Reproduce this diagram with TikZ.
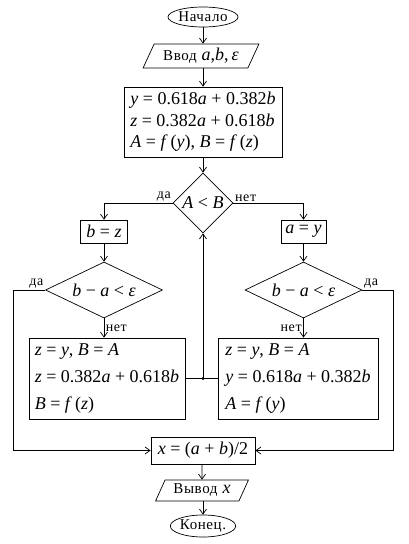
\documentclass[tikz,border=0pt]{standalone}
\usepackage{fontspec}
\setmainfont{Liberation Serif}
\newfontfamily\cyrfont[LetterSpace=4]{Liberation Serif}
\usetikzlibrary{arrows.meta,shapes.geometric}
\newcommand\vi[1]{\textit{#1}}
\newcommand\cyr{\cyrfont\fontsize{15}{17}\selectfont}
\newcommand\mth{\fontsize{18}{22}\selectfont}
\begin{document}
\begin{tikzpicture}[x=1pt,y=-1pt,
  every path/.style={line width=0.7pt},
  arr/.style={-{Straight Barb[length=5pt,width=7pt]}},
  lbl/.style={font=\cyrfont\fontsize{14}{15}\selectfont, inner sep=1.5pt},
  term/.style={draw, ellipse, inner sep=0pt, font=\cyr},
  io/.style={draw, trapezium, trapezium left angle=60, trapezium right angle=120, trapezium stretches=true, inner sep=0pt},
  proc/.style={draw, rectangle, inner sep=2pt, font=\mth, align=left},
  dec/.style={draw, diamond, inner sep=0pt, font=\mth}
]
\useasboundingbox (0,0) rectangle (408,544);

\node[term, minimum width=70pt, minimum height=20pt] (start) at (203,17) {Начало};
\node[io, minimum width=116pt, minimum height=24pt] (in) at (201,56)
  {{\cyr Ввод}\enspace{\mth\vi{a},\vi{b},\,\vi{ε}}};
\node[proc, minimum width=158pt, minimum height=70pt, font=\fontsize{18}{21.5}\selectfont] (calc) at (203,122)
  {\vi{y} = 0.618\vi{a} + 0.382\vi{b}\\ \vi{z} = 0.382\vi{a} + 0.618\vi{b}\\ \vi{A} = \vi{f}\,(\vi{y}), \vi{B} = \vi{f}\,(\vi{z})};
\node[dec, minimum width=60pt, minimum height=60pt] (d1) at (203,203) {\vi{A} < \vi{B}};

\node[proc, minimum width=47pt, minimum height=23pt, inner sep=1pt] (bz) at (104,231.5) {\vi{b} = \vi{z}};
\node[proc, minimum width=45pt, minimum height=23pt, inner sep=1pt] (ay) at (303.5,231.5) {\vi{a} = \vi{y}};

\node[dec, aspect=2, minimum width=117pt, minimum height=56pt] (d2) at (104,290) {\vi{b} − \vi{a} < \vi{ε}};
\node[dec, aspect=2, minimum width=117pt, minimum height=56pt] (d3) at (303.5,290) {\vi{b} − \vi{a} < \vi{ε}};

\node[proc, minimum width=156pt, minimum height=81pt, font=\fontsize{18}{27}\selectfont] (lbox) at (107,378.5)
  {\vi{z} = \vi{y}, \vi{B} = \vi{A}\\ \vi{z} = 0.382\vi{a} + 0.618\vi{b}\\ \vi{B} = \vi{f}\,(\vi{z})};
\node[proc, minimum width=160pt, minimum height=81pt, font=\fontsize{18}{27}\selectfont] (rbox) at (298,378.5)
  {\vi{z} = \vi{y}, \vi{B} = \vi{A}\\ \vi{y} = 0.618\vi{a} + 0.382\vi{b}\\ \vi{A} = \vi{f}\,(\vi{y})};

\node[proc, minimum width=104pt, minimum height=27pt, inner sep=1pt] (xb) at (203,450.5) {\vi{x} = (\vi{a} + \vi{b})/2};
\node[io, minimum width=93pt, minimum height=21pt] (out) at (202,490.5)
  {{\cyr Вывод}\enspace{\mth\vi{x}}};
\node[term, minimum width=57pt, minimum height=22pt] (end) at (203,526) {Конец.};

\coordinate (j) at (203,378.5);
\coordinate (lL) at (13,290);
\coordinate (rR) at (393,290);

\draw[arr] (start) -- (start |- in.north);
\draw[arr] (in.south -| calc) -- (calc);
\draw[arr] (calc) -- (d1);
\draw[arr] (d1.west) -| (bz);
\draw[arr] (d1.east) -| (ay);
\draw[arr] (bz) -- (bz |- d2.north);
\draw[arr] (ay) -- (d3);
\draw[arr] (d2.south) -- (d2.south |- lbox.north) node[lbl, midway, right] {нет};
\draw[arr] (d3.south) -- (d3.south |- rbox.north) node[lbl, midway, left] {нет};
\draw (lbox.east) -- (j) -- (rbox.west);
\fill (j) circle (1.6pt);
\draw[arr] (j) -- (d1.south);
\draw[arr] (d2.west) -- (lL) |- (xb);
\draw[arr] (d3.east) -- (rR) |- (xb);
\draw[arr] (xb.south -| out) -- (out);
\draw[arr] (out.south -| end) -- (end);

\node[lbl, anchor=south east] at (d1.west) {да};
\node[lbl, anchor=south west] at (d1.east) {нет};
\node[lbl, anchor=south east] at (d2.west) {да};
\node[lbl, anchor=south west] at (d3.east) {да};
\end{tikzpicture}
\end{document}
